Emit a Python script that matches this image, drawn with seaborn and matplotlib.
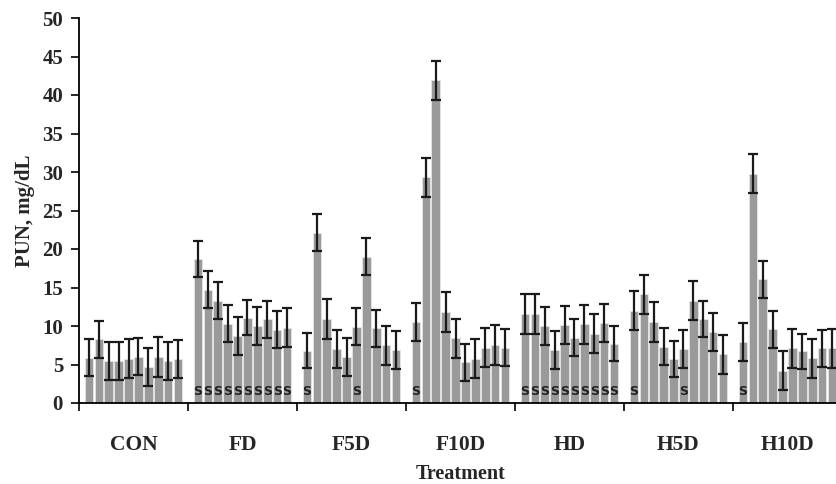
"""PUN by treatment group, mean +/- SE per sampling day."""

import matplotlib

matplotlib.use("Agg")
import matplotlib.pyplot as plt
import numpy as np
import pandas as pd
import seaborn as sns

groups = ["CON", "FD", "F5D", "F10D", "HD", "H5D", "H10D"]
n_per_group = 10

pun_mean = [
    [5.9, 8.3, 5.45, 5.45, 5.75, 6.0, 4.7, 6.0, 5.45, 5.7],
    [18.7, 14.7, 13.3, 10.3, 8.7, 11.1, 10.0, 10.9, 9.5, 9.8],
    [6.8, 22.1, 10.9, 7.0, 6.0, 9.9, 19.0, 9.7, 7.5, 6.9],
    [10.5, 29.3, 41.9, 11.8, 8.4, 5.3, 5.75, 7.2, 7.5, 7.2],
    [11.5, 11.5, 10.0, 6.9, 10.1, 8.5, 10.2, 9.0, 10.4, 7.7],
    [12.0, 14.1, 10.5, 7.3, 5.7, 7.0, 13.3, 10.9, 9.2, 6.3],
    [7.9, 29.8, 16.1, 9.6, 4.2, 7.1, 6.7, 5.8, 7.1, 7.1],
]
pun_se = [
    [2.45, 2.4, 2.45, 2.45, 2.55, 2.4, 2.5, 2.6, 2.45, 2.5],
    [2.4, 2.4, 2.4, 2.4, 2.5, 2.3, 2.5, 2.4, 2.4, 2.5],
    [2.3, 2.4, 2.6, 2.5, 2.5, 2.4, 2.4, 2.4, 2.5, 2.45],
    [2.5, 2.5, 2.5, 2.6, 2.5, 2.4, 2.55, 2.5, 2.6, 2.4],
    [2.6, 2.6, 2.5, 2.5, 2.5, 2.4, 2.5, 2.5, 2.5, 2.3],
    [2.5, 2.5, 2.6, 2.4, 2.35, 2.5, 2.5, 2.3, 2.5, 2.5],
    [2.5, 2.5, 2.4, 2.4, 2.5, 2.5, 2.3, 2.55, 2.4, 2.5],
]
# bars flagged with "S"
sig_flags = [
    [],
    list(range(10)),
    [0, 5],
    [0],
    list(range(10)),
    [0, 5],
    [0],
]

# each group takes 11 slots: 10 bars and one empty gap slot
slot = n_per_group + 1
rows = []
order = []
for g, name in enumerate(groups):
    for i in range(slot):
        key = f"{name}_{i}"
        order.append(key)
        if i < n_per_group:
            rows.append(
                {
                    "key": key,
                    "pos": g * slot + i,
                    "pun": pun_mean[g][i],
                    "se": pun_se[g][i],
                    "sig": i in sig_flags[g],
                }
            )
df = pd.DataFrame(rows)

sns.set_style("ticks")
serif = ["Liberation Serif", "DejaVu Serif"]

fig = plt.figure(figsize=(8.37, 4.84), dpi=100)
ax = fig.add_axes([79 / 837, 81 / 484, 763 / 837, 385 / 484])

sns.barplot(
    data=df,
    x="key",
    y="pun",
    order=order,
    color="#9a9a9a",
    saturation=1,
    width=0.86,
    errorbar=None,
    edgecolor="#e6e6e6",
    linewidth=0.6,
    ax=ax,
)
ax.errorbar(
    df["pos"],
    df["pun"],
    yerr=df["se"],
    fmt="none",
    ecolor="#1a1a1a",
    elinewidth=1.6,
    capsize=3.6,
    capthick=1.6,
)

for _, r in df[df["sig"]].iterrows():
    ax.text(
        r["pos"], 0.7, "S", ha="center", va="bottom",
        fontsize=9, fontweight="bold", color="#222222", family="DejaVu Sans",
    )

ax.set_xlim(-1, len(groups) * slot - 1)
ax.set_ylim(0, 50)
ax.set_yticks(np.arange(0, 51, 5))
ax.set_yticklabels([str(v) for v in range(0, 51, 5)], family=serif,
                   fontsize=15, fontweight="bold")

bounds = [g * slot - 1 for g in range(len(groups))]
ax.set_xticks(bounds)
ax.set_xticklabels([])
ax.tick_params(axis="both", direction="out", length=5.5, width=1.2, color="black")
ax.tick_params(axis="y", pad=6)

for g, name in enumerate(groups):
    ax.text(
        g * slot + 4.5, -5.45, name, ha="center", va="center",
        fontsize=15.5, fontweight="bold", family=serif,
        transform=ax.transData, clip_on=False,
    )

ax.set_xlabel("Treatment", family=serif, fontsize=14.5, fontweight="bold", labelpad=35)
ax.set_ylabel("PUN, mg/dL", family=serif, fontsize=15, fontweight="bold", labelpad=5)

sns.despine(ax=ax)
for side in ["left", "bottom"]:
    ax.spines[side].set_linewidth(1.3)
    ax.spines[side].set_color("black")

fig.savefig("out.png", dpi=100)
